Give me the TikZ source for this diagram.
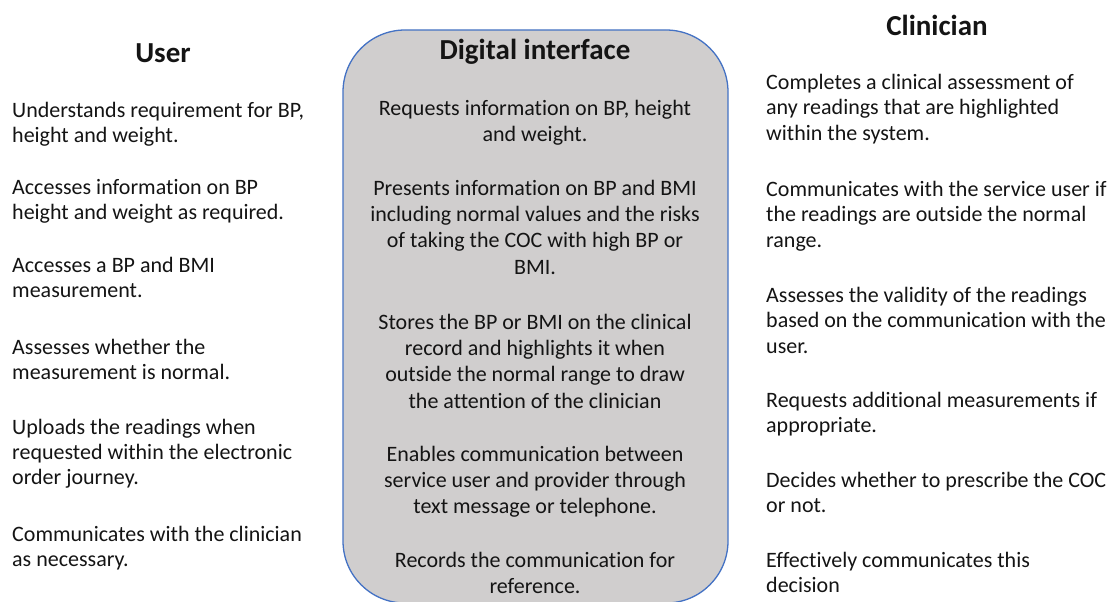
\documentclass[tikz,border=0pt]{standalone}
\usepackage{fontspec}
\setmainfont{Carlito}[Ligatures=NoCommon]
\definecolor{panelfill}{HTML}{D0CECE}
\definecolor{panelline}{HTML}{4472C4}
\definecolor{inktext}{HTML}{141414}
\tikzset{
  heading/.style={font=\fontsize{29}{34}\selectfont\bfseries, text=inktext, inner sep=0pt, anchor=center},
  lefttext/.style={font=\fontsize{22}{25}\selectfont, text=inktext, align=left, inner sep=0pt, anchor=north west},
  midtext/.style={font=\fontsize{22}{26.3}\selectfont, text=inktext, align=center, inner sep=0pt, anchor=north},
  righttext/.style={font=\fontsize{22}{25.7}\selectfont, text=inktext, align=left, inner sep=0pt, anchor=north west},
  panel/.style={draw=panelline, line width=1.3pt, fill=panelfill, rounded corners=62pt}
}
\begin{document}
\begin{tikzpicture}[x=1pt, y=-1pt]
\useasboundingbox (0,0) rectangle (1111,602);

% central rounded panel
\draw[panel] (343,30) rectangle (728,603);

% column headings
\node[heading] (huser) at (163,53) {User};
\node[heading] (hdigital) at (535,52) {Digital interface};
\node[heading] (hclin) at (937,25) {Clinician};

% user column (first baseline minus strut height)
\node[lefttext] (u1) at (12,100.2) {\strut Understands requirement for BP,\\height and weight.};
\node[lefttext] (u2) at (12,177.2) {\strut Accesses information on BP\\height and weight as required.};
\node[lefttext] (u3) at (12,255.2) {\strut Accesses a BP and BMI\\measurement.};
\node[lefttext] (u4) at (12,337.2) {\strut Assesses whether the\\measurement is normal.};
\node[lefttext] (u5) at (12,417.2) {\strut Uploads the readings when\\requested within the electronic\\order journey.};
\node[lefttext] (u6) at (12,524.2) {\strut Communicates with the clinician\\as necessary.};

% digital interface column
\node[midtext] (d1) at (535,96.6) {\strut Requests information on BP, height\\and weight.};
\node[midtext] (d2) at (535,176.6) {\strut Presents information on BP and BMI\\including normal values and the risks\\of taking the COC with high BP or\\BMI.};
\node[midtext] (d3) at (535,310.6) {\strut Stores the BP or BMI on the clinical\\record and highlights it when\\outside the normal range to draw\\the attention of the clinician};
\node[midtext] (d4) at (535,442.6) {\strut Enables communication between\\service user and provider through\\text message or telephone.};
\node[midtext] (d5) at (535,548.6) {\strut Records the communication for\\reference.};

% clinician column
\node[righttext] (c1) at (766,71) {\strut Completes a clinical assessment of\\any readings that are highlighted\\within the system.};
\node[righttext] (c2) at (766,178) {\strut Communicates with the service user if\\the readings are outside the normal\\range.};
\node[righttext] (c3) at (766,284) {\strut Assesses the validity of the readings\\based on the communication with the\\user.};
\node[righttext] (c4) at (766,389) {\strut Requests additional measurements if\\appropriate.};
\node[righttext] (c5) at (766,469) {\strut Decides whether to prescribe the COC\\or not.};
\node[righttext] (c6) at (766,549) {\strut Effectively communicates this\\decision};
\end{tikzpicture}
\end{document}
